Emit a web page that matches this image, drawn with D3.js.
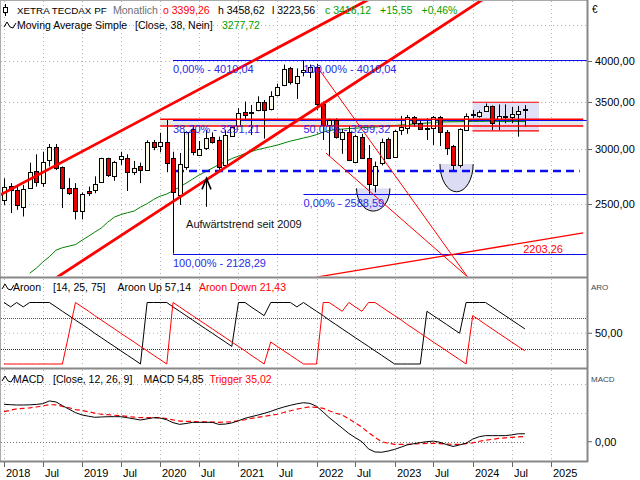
<!DOCTYPE html>
<html><head><meta charset="utf-8">
<script src="https://cdn.jsdelivr.net/npm/d3@7/dist/d3.min.js"></script>
<style>
html,body{margin:0;padding:0;background:#fff;}
svg text{font-family:"Liberation Sans",Arial,Helvetica,sans-serif;}
</style></head><body>
<svg id="chart" width="640" height="480"></svg>
<script>
// ---------------- DATA ----------------
const months = ["2018-01","2018-02","2018-03","2018-04","2018-05","2018-06","2018-07","2018-08","2018-09","2018-10","2018-11","2018-12",
"2019-01","2019-02","2019-03","2019-04","2019-05","2019-06","2019-07","2019-08","2019-09","2019-10","2019-11","2019-12",
"2020-01","2020-02","2020-03","2020-04","2020-05","2020-06","2020-07","2020-08","2020-09","2020-10","2020-11","2020-12",
"2021-01","2021-02","2021-03","2021-04","2021-05","2021-06","2021-07","2021-08","2021-09","2021-10","2021-11","2021-12",
"2022-01","2022-02","2022-03","2022-04","2022-05","2022-06","2022-07","2022-08","2022-09","2022-10","2022-11","2022-12",
"2023-01","2023-02","2023-03","2023-04","2023-05","2023-06","2023-07","2023-08","2023-09","2023-10","2023-11","2023-12",
"2024-01","2024-02","2024-03","2024-04","2024-05","2024-06","2024-07","2024-08","2024-09"];

const opens = [2538,2658,2621,2475,2635,2793,2677,2895,3013,2826,2635,2640,
2450,2610,2620,2690,2906,2744,2902,2906,2784,2830,2800,3070,
3030,3070,2906,2579,2826,3200,2935,3010,3115,3086,2844,3128,
3232,3380,3370,3405,3500,3413,3570,3690,3900,3715,3860,3860,
3920,3470,3240,3290,3100,3171,2870,3120,2908,2664,2861,3094,
2923,3189,3207,3325,3260,3207,3207,3325,3171,3027,2844,3189,
3360,3339,3397,3450,3303,3335,3324,3360,3399.26];

const highs = [2722,2680,2650,2664,2866,2945,2970,3046,3046,2830,2724,2680,
2600,2650,2740,2912,2912,2882,2970,2945,2882,2866,3083,3086,
3160,3304,2970,2958,3175,3241,3076,3189,3164,3120,3189,3232,
3425,3500,3461,3560,3518,3620,3710,3950,3920,3900,4010.04,3950,
3960,3500,3310,3314,3200,3232,3140,3150,3036,2876,3100,3110,
3189,3339,3350,3339,3285,3314,3339,3339,3189,3037,3207,3367,
3405,3400,3478,3455,3467,3467,3440,3450,3458.62];

const lows = [2496,2430,2456,2403,2630,2650,2648,2830,2798,2470,2579,2380,
2380,2570,2593,2690,2735,2700,2845,2612,2752,2680,2800,2985,
2965,2777,2128.29,2496,2800,2935,2935,2987,3050,2800,2826,3120,
3220,3305,3137,3390,3100,3400,3560,3680,3700,3530,3800,3780,
3400,3086,2930,3100,2950,2880,2860,2900,2588.59,2600,2840,2900,
2910,3137,3150,3220,3189,3086,3037,3025,2939,2798,2820,3183,
3314,3320,3387,3189,3189,3260,3260,3120,3223.56];

const closes = [2650,2621,2496,2630,2784,2692,2876,3013,2820,2635,2593,2450,
2590,2595,2675,2906,2752,2876,2925,2784,2812,2800,3070,3020,
3066,2860,2600,2855,3164,2963,2993,3104,3064,2826,3137,3215,
3370,3345,3385,3495,3405,3560,3675,3892,3730,3805,3880,3920,
3470,3240,3290,3120,3171,2891,3128,2914,2671,2838,3064,2914,
3179,3218,3331,3260,3197,3197,3331,3171,3005,2844,3197,3339,
3350,3379,3450,3267,3339,3330,3357,3394,3416.12];

// Moving Average Simple (38)
const ma38 = [null,null,null,null,1996,2029,2070,2107,2152,2170,2181,2192,
2224,2254,2283,2314,2359,2398,2418,2433,2446,2478,2506,2540,
2569,2586,2615,2646,2680,2716,2752,2783,2815,2848,2876,2904,
2928,2952,2971,2991,3005,3020,3035,3055,3075,3090,3106,3121,
3141,3167,3183,3193,3198,3204,3207,3213,3216,3220,3225,3230,
3236,3241,3246,3252,3257,3262,3268,3273,3275,3276,3277,3278,
3279,3280,3281,3281,3280,3279,3278,3278,3277.72];

const aroonUp = [100,92.86,100,92.86,100,100,100,100,92.86,85.71,78.57,71.43,
64.29,57.14,50,42.86,35.71,28.57,21.43,14.29,7.14,0,100,100,
100,100,92.86,85.71,78.57,71.43,64.29,57.14,50,42.86,35.71,28.57,
100,100,92.86,85.71,78.57,100,100,100,100,92.86,100,92.86,
85.71,78.57,71.43,64.29,57.14,50,42.86,35.71,28.57,21.43,14.29,7.14,
0,0,0,0,0,85.71,78.57,71.43,64.29,57.14,50,100,
100,100,100,92.86,85.71,78.57,71.43,64.29,57.14];

const aroonDown = [0,0,0,0,0,0,0,0,0,0,50,100,
92.86,85.71,78.57,71.43,64.29,57.14,50,42.86,35.71,28.57,21.43,14.29,
7.14,0,100,92.86,85.71,78.57,71.43,64.29,57.14,50,42.86,35.71,
28.57,21.43,14.29,7.14,0,35.71,28.57,21.43,14.29,7.14,0,0,
0,100,100,92.86,85.71,100,92.86,85.71,100,100,92.86,85.71,
78.57,71.43,64.29,57.14,50,42.86,35.71,28.57,21.43,14.29,7.14,0,
78.57,71.43,64.29,57.14,50,42.86,35.71,28.57,21.43];

const macdLine = [259,256,254,254,255,258,263,282,275,250,225,201,
185,176,169,171,173,173,173,166,158,150,158,166,
164,152,132,120,126,134,134,134,134,120,122,130,
145,162,173,184,196,210,226,240,252,262,270,265,
245,205,167,130,94,57,28,0,-50,-71,-73,-65,
-53,-37,-22,-14,-6,0,4,-4,-20,-33,-22,-11,
18,35,42,42,42,42,47,55,54.85];

const triggerLine = [208,218,227,231,234,240,248,256,255,244,235,222,
216,207,198,190,187,183,180,175,170,166,166,166,
166,160,151,143,141,140,138,137,136,134,136,138,
145,152,161,168,176,183,190,202,214,225,234,241,
238,231,214,197,185,158,130,100,63,30,0,-10,
-18,-18,-18,-16,-14,-12,-11,-14,-17,-18,-18,-13,
-8,3,10,16,23,27,30,34,35.02];

const xTickMonths = ["2018-01","2018-07","2019-01","2019-07","2020-01","2020-07","2021-01","2021-07",
"2022-01","2022-07","2023-01","2023-07","2024-01","2024-07","2025-01"];
const xTickLabels = ["2018","Jul","2019","Jul","2020","Jul","2021","Jul","2022","Jul","2023","Jul","2024","Jul","2025"];
const priceTicks = [2500,3000,3500,4000];
const priceGrid = [2500,3000,3500,4000,4500];

// drawing annotations (date, price)
const channelUpper = [["2017-12-01",2566],["2022-10-01",4940]];
const channelLower = [["2018-03-01",1807],["2024-03-01",4916]];
const fanA = [["2022-02-14",2957],["2023-12-10",1970]];
const fanB = [["2022-01-08",3906],["2023-12-19",1951]];
const riseLine = [["2022-01-01",1971],["2025-06-01",2278]];
const resistZone = {from:"2020-01-01", to:"2025-06-01", top:3303, bottom:3231};
const fib1 = {from:"2020-03-01", levels:[4010.04,3291.21,2128.29], labels:["0,00% - 4010,04","38,20% - 3291,21","100,00% - 2128,29"]};
const fib2 = {from:"2021-11-01", levels:[4010.04,3299.32,2588.59], labels:["100,00% - 4010,04","50,00% - 3299,32","0,00% - 2588,59"]};
const supportDashed = {from:"2020-03-15", to:"2025-05-15", value:2789};
const consolBox = {from:"2023-12-31", to:"2024-11-06", top:3492, bottom:3179};
const bowls = [{from:"2022-07-07",to:"2022-12-10",top:2634,bottom:2446},
               {from:"2023-08-01",to:"2024-01-03",top:2852,bottom:2605}];
const arrowAnn = {date:"2020-08-01", from:2480, to:2722};
const trendText = {date:"2020-05-01", value:2344, text:"Aufwärtstrend seit 2009"};
const riseLabel = {date:"2025-02-26", value:2160, text:"2203,26"};

// ---------------- SETUP ----------------
const svg = d3.select("#chart");
const pm = d3.timeParse("%Y-%m");
const pd = d3.timeParse("%Y-%m-%d");
const dates = months.map(pm);
const loc = d3.formatLocale({decimal:",",thousands:".",grouping:[3],currency:["","€"]});
const fmt2 = loc.format(".2f");

const L = 1, R = 587;
const P = {main:[1,276.5], aroon:[279,367], macd:[370,461]};

const x = d3.scaleTime().domain([pm("2018-01"), pm("2025-01")]).range([4,551]);
const y = d3.scaleLog().domain([2500,4000]).range([204.4,60.7]);
const ya = d3.scaleLinear().domain([0,100]).range([364,302.5]);
const ym = d3.scaleLinear().domain([0,400]).range([441.7,383.9]);

const defs = svg.append("defs");
Object.entries(P).forEach(([k,[t,b]])=>{
  defs.append("clipPath").attr("id","clip-"+k).append("rect")
    .attr("x",L).attr("y",t).attr("width",R-L).attr("height",b-t);
});

svg.append("rect").attr("width",640).attr("height",480).attr("fill","#fff");

const GRID = "#b4b4b4";
Object.entries(P).forEach(([k,[t,b]])=>{
  svg.append("g").selectAll("line").data(xTickMonths).join("line")
    .attr("x1",d=>Math.round(x(pm(d)))+0.5).attr("x2",d=>Math.round(x(pm(d)))+0.5)
    .attr("y1",t).attr("y2",b).attr("stroke",GRID).attr("stroke-dasharray","1,3");
});
svg.append("g").selectAll("line").data(priceGrid).join("line")
  .attr("x1",L).attr("x2",R).attr("y1",d=>Math.round(y(d))+0.5).attr("y2",d=>Math.round(y(d))+0.5)
  .attr("stroke",GRID).attr("stroke-dasharray","1,3");

// ---------------- MAIN PANEL ----------------
const gm = svg.append("g").attr("clip-path","url(#clip-main)");
const pt = p => [x(pd(p[0])), y(p[1])];

gm.append("rect").attr("x",x(pd(resistZone.from))).attr("width",x(pd(resistZone.to))-x(pd(resistZone.from)))
  .attr("y",y(resistZone.top)).attr("height",y(resistZone.bottom)-y(resistZone.top)).attr("fill","#e6eae6");

gm.append("rect").attr("x",x(pd(consolBox.from))).attr("width",x(pd(consolBox.to))-x(pd(consolBox.from)))
  .attr("y",y(consolBox.top)).attr("height",y(consolBox.bottom)-y(consolBox.top)).attr("fill","#e0e0f6");
[consolBox.top,consolBox.bottom].forEach(v=>{
  gm.append("line").attr("x1",x(pd(consolBox.from))).attr("x2",x(pd(consolBox.to)))
    .attr("y1",y(v)).attr("y2",y(v)).attr("stroke","#f00").attr("stroke-width",1.2);
});

bowls.forEach(b=>{
  const x1=x(pd(b.from)), x2=x(pd(b.to)), yt=y(b.top), yb=y(b.bottom);
  const rx=(x2-x1)/2, ry=yb-yt;
  gm.append("path").attr("d",`M${x1},${yt} A${rx},${ry} 0 0 0 ${x2},${yt} Z`).attr("fill","#dcdcf4");
  gm.append("path").attr("d",`M${x1},${yt} A${rx},${ry} 0 0 0 ${x2},${yt}`).attr("fill","none").attr("stroke","#000").attr("stroke-width",1);
});

const lineMA = d3.line().defined(d=>d[1]!=null).x(d=>x(d[0])).y(d=>y(d[1]));
gm.append("path").attr("d",lineMA(dates.map((d,i)=>[d,ma38[i]]))).attr("fill","none").attr("stroke","#008000").attr("stroke-width",1);

const BLUE="#0c0cf0";
[fib1,fib2].forEach(f=>{
  f.levels.forEach(v=>{
    gm.append("line").attr("x1",x(pd(f.from))).attr("x2",R).attr("y1",Math.round(y(v))+0.5).attr("y2",Math.round(y(v))+0.5)
      .attr("stroke",BLUE).attr("stroke-width",1.2);
  });
});
gm.append("line").attr("x1",x(pd(supportDashed.from))).attr("x2",x(pd(supportDashed.to)))
  .attr("y1",y(supportDashed.value)).attr("y2",y(supportDashed.value))
  .attr("stroke",BLUE).attr("stroke-width",2.6).attr("stroke-dasharray","8,5");

const cg = gm.append("g");
dates.forEach((d,i)=>{
  const cx=Math.round(x(d));
  cg.append("line").attr("x1",cx+0.5).attr("x2",cx+0.5).attr("y1",y(highs[i])).attr("y2",y(lows[i]))
    .attr("stroke","#000").attr("stroke-width",1);
  const top=y(Math.max(opens[i],closes[i])), bot=y(Math.min(opens[i],closes[i]));
  cg.append("rect").attr("x",cx-1.5).attr("width",4).attr("y",Math.round(top)+0.5)
    .attr("height",Math.max(1,Math.round(bot)-Math.round(top)))
    .attr("fill",closes[i]>=opens[i]?"#fbfbe6":"#e80000").attr("stroke","#000").attr("stroke-width",1);
});

[resistZone.top,resistZone.bottom].forEach(v=>{
  gm.append("line").attr("x1",x(pd(resistZone.from))).attr("x2",x(pd(resistZone.to)))
    .attr("y1",y(v)).attr("y2",y(v)).attr("stroke","#f00").attr("stroke-width",1.3);
});

[fanA,fanB,riseLine].forEach((ln,k)=>{
  const a=pt(ln[0]), b=pt(ln[1]);
  gm.append("line").attr("x1",a[0]).attr("y1",a[1]).attr("x2",b[0]).attr("y2",b[1])
    .attr("stroke","#f00").attr("stroke-width",k==2?1.3:1);
});
[channelUpper,channelLower].forEach(ln=>{
  const a=pt(ln[0]), b=pt(ln[1]);
  gm.append("line").attr("x1",a[0]).attr("y1",a[1]).attr("x2",b[0]).attr("y2",b[1])
    .attr("stroke","#f00").attr("stroke-width",2.8);
});

const TXTBLUE="#2a2ae8";
[fib1,fib2].forEach(f=>{
  f.levels.forEach((v,j)=>{
    gm.append("text").attr("x",x(pd(f.from))).attr("y",y(v)+13).attr("font-size",11).attr("fill",TXTBLUE).text(f.labels[j]);
  });
});
gm.append("text").attr("x",x(pd(riseLabel.date))).attr("y",y(riseLabel.value)+4).attr("text-anchor","end")
  .attr("font-size",11).attr("fill","#f00").text(riseLabel.text);
gm.append("text").attr("x",x(pd(trendText.date))).attr("y",y(trendText.value)+4)
  .attr("font-size",11).attr("fill","#111").text(trendText.text);

{
  const ax=Math.round(x(pd(arrowAnn.date)))+0.5, y1=y(arrowAnn.from), y2=y(arrowAnn.to);
  gm.append("line").attr("x1",ax).attr("x2",ax).attr("y1",y1).attr("y2",y2).attr("stroke","#000").attr("stroke-width",1);
  gm.append("path").attr("d",`M${ax-4.5},${y2+11} L${ax},${y2} L${ax+4.5},${y2+11}`).attr("fill","none").attr("stroke","#000").attr("stroke-width",1.6);
}

// ---------------- AROON PANEL ----------------
const ga = svg.append("g").attr("clip-path","url(#clip-aroon)");
ga.append("line").attr("x1",L).attr("x2",R).attr("y1",ya(50)).attr("y2",ya(50)).attr("stroke",GRID).attr("stroke-dasharray","1,3");
ga.append("line").attr("x1",L).attr("x2",R).attr("y1",Math.round(ya(75))+0.5).attr("y2",Math.round(ya(75))+0.5).attr("stroke","#009000").attr("stroke-dasharray","1,1");
ga.append("line").attr("x1",L).attr("x2",R).attr("y1",Math.round(ya(25))+0.5).attr("y2",Math.round(ya(25))+0.5).attr("stroke","#a00000").attr("stroke-dasharray","1,1");
const lineA = d3.line().x(d=>x(d[0])).y(d=>ya(d[1]));
ga.append("path").attr("d",lineA(dates.map((d,i)=>[d,aroonUp[i]]))).attr("fill","none").attr("stroke","#000").attr("stroke-width",1);
ga.append("path").attr("d",lineA(dates.map((d,i)=>[d,aroonDown[i]]))).attr("fill","none").attr("stroke","#f00").attr("stroke-width",1);

// ---------------- MACD PANEL ----------------
const gc = svg.append("g").attr("clip-path","url(#clip-macd)");
[200,400].forEach(v=>{
  gc.append("line").attr("x1",L).attr("x2",R).attr("y1",Math.round(ym(v))+0.5).attr("y2",Math.round(ym(v))+0.5).attr("stroke",GRID).attr("stroke-dasharray","1,3");
});
gc.append("line").attr("x1",L).attr("x2",x(dates[dates.length-1])).attr("y1",Math.round(ym(0))+0.5).attr("y2",Math.round(ym(0))+0.5)
  .attr("stroke","#707070").attr("stroke-dasharray","1,2");
const lineM = d3.line().x(d=>x(d[0])).y(d=>ym(d[1]));
gc.append("path").attr("d",lineM(dates.map((d,i)=>[d,triggerLine[i]]))).attr("fill","none").attr("stroke","#f00").attr("stroke-width",1.2).attr("stroke-dasharray","5,3");
gc.append("path").attr("d",lineM(dates.map((d,i)=>[d,macdLine[i]]))).attr("fill","none").attr("stroke","#000").attr("stroke-width",1);

// ---------------- FRAMES & AXES ----------------
const FR="#888";
svg.append("line").attr("x1",0.5).attr("x2",0.5).attr("y1",0).attr("y2",462).attr("stroke","#aaa");
svg.append("line").attr("x1",0).attr("x2",R).attr("y1",0.5).attr("y2",0.5).attr("stroke","#aaa");
[277.5,368.5,461.5].forEach(v=>{
  svg.append("line").attr("x1",0).attr("x2",R+1).attr("y1",v).attr("y2",v).attr("stroke",FR).attr("stroke-width",2);
});
svg.append("line").attr("x1",R+0.5).attr("x2",R+0.5).attr("y1",0).attr("y2",462).attr("stroke",FR).attr("stroke-width",2);

const axg = svg.append("g").attr("font-size",11).attr("fill","#000");
priceTicks.forEach(v=>{
  const yy=Math.round(y(v))+0.5;
  axg.append("line").attr("x1",R+1).attr("x2",R+5).attr("y1",yy).attr("y2",yy).attr("stroke","#666");
  axg.append("text").attr("x",595).attr("y",yy).attr("dy","0.35em").text(fmt2(v));
});
axg.append("line").attr("x1",R+1).attr("x2",R+5).attr("y1",ya(50)).attr("y2",ya(50)).attr("stroke","#666");
axg.append("text").attr("x",595).attr("y",ya(50)).attr("dy","0.35em").text(fmt2(50));
axg.append("line").attr("x1",R+1).attr("x2",R+5).attr("y1",ym(0)).attr("y2",ym(0)).attr("stroke","#666");
axg.append("text").attr("x",595).attr("y",ym(0)).attr("dy","0.35em").text(fmt2(0));
axg.append("text").attr("x",592).attr("y",13).attr("font-size",10).text("€");
axg.append("text").attr("x",591).attr("y",290).attr("font-size",8).attr("fill","#3c4650").text("ARO");
axg.append("text").attr("x",591).attr("y",382).attr("font-size",8).attr("fill","#3c4650").text("MACD");

xTickMonths.forEach((m,i)=>{
  const xx=Math.round(x(pm(m)))+0.5;
  svg.append("line").attr("x1",xx).attr("x2",xx).attr("y1",462).attr("y2",467).attr("stroke","#666");
  svg.append("text").attr("x",xx+1.5).attr("y",477).attr("font-size",11).attr("fill","#000").text(xTickLabels[i]);
});

// ---------------- HEADERS ----------------
function wave(g,x0,yc){
  g.append("path").attr("d",`M${x0},${yc+2} L${x0+3},${yc-3} L${x0+6},${yc+2} L${x0+9},${yc+3} L${x0+12},${yc-2}`)
   .attr("fill","none").attr("stroke","#000").attr("stroke-width",1);
}
const hd = svg.append("g").attr("font-size",10.5);
hd.append("line").attr("x1",5.5).attr("x2",5.5).attr("y1",4).attr("y2",16).attr("stroke","#000");
hd.append("rect").attr("x",3.5).attr("y",7.5).attr("width",4).attr("height",5).attr("fill","#fff").attr("stroke","#000");
const h1 = [[17,"XETRA TECDAX PF","#000",9.8],[113,"Monatlich","#707070",10.5],[163,"o 3399,26","#f00",10.5],[218,"h 3458,62","#000",10.5],
  [272,"l 3223,56","#000",10.5],[325,"c 3416,12","#00a000",10.5],[380,"+15,55","#00a000",10.5],[421.5,"+0,46%","#00a000",10.5]];
h1.forEach(([xx,t,c,fs])=>hd.append("text").attr("x",xx).attr("y",14).attr("font-size",fs).attr("fill",c).text(t));
wave(hd,4,25);
const h2 = [[17,"Moving Average Simple","#000"],[135,"[Close, 38, Nein]","#000"],[222,"3277,72","#00a000"]];
h2.forEach(([xx,t,c])=>hd.append("text").attr("x",xx).attr("y",29).attr("fill",c).text(t));

wave(hd,2,287);
const h3 = [[13,"Aroon","#000"],[53,"[14, 25, 75]","#000"],[117.5,"Aroon Up 57,14","#000"],[199,"Aroon Down 21,43","#f00"]];
h3.forEach(([xx,t,c])=>hd.append("text").attr("x",xx).attr("y",291).attr("fill",c).text(t));
wave(hd,2,379);
const h4 = [[13,"MACD","#000"],[53,"[Close, 12, 26, 9]","#000"],[143.5,"MACD 54,85","#000"],[209.5,"Trigger 35,02","#f00"]];
h4.forEach(([xx,t,c])=>hd.append("text").attr("x",xx).attr("y",383).attr("fill",c).text(t));
</script>
</body></html>
